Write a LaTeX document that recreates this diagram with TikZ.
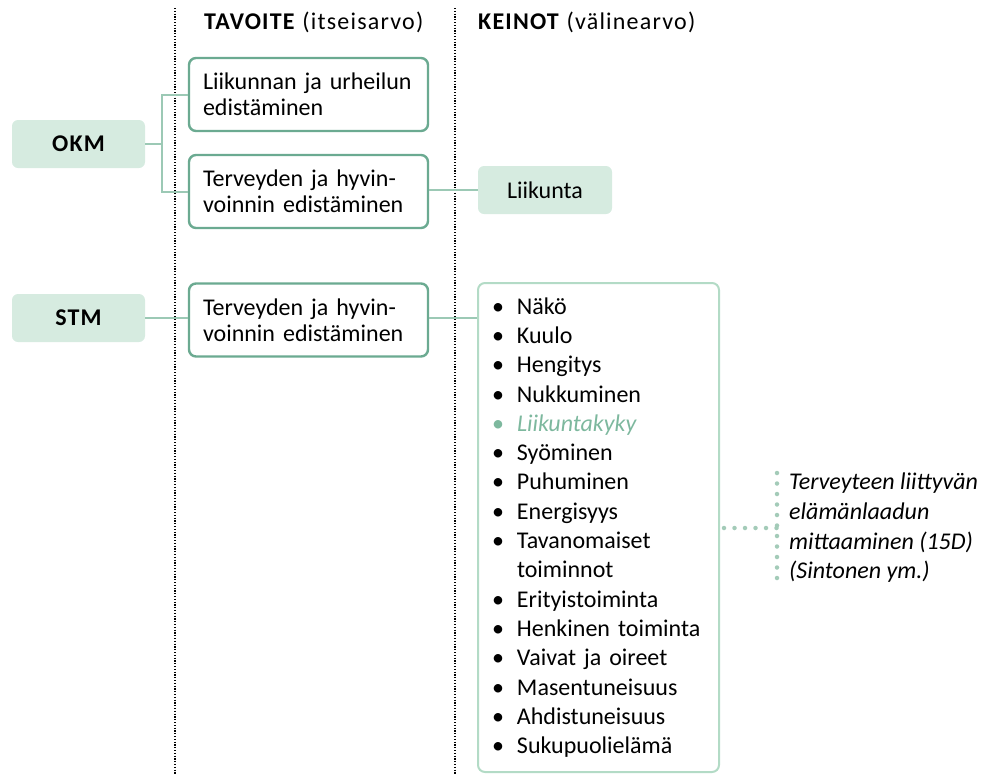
\documentclass[tikz,border=0pt]{standalone}
\usepackage{fontspec}
\setmainfont{Carlito}
\definecolor{boxline}{HTML}{6BAA91}
\definecolor{boxfill}{HTML}{D6EBE0}
\definecolor{listline}{HTML}{B3DBC6}
\definecolor{conn}{HTML}{9CC9B5}
\definecolor{dotc}{HTML}{A3CBB8}
\definecolor{hl}{HTML}{7DB89E}
\newcommand{\bitem}[1]{\makebox[25pt][l]{\textbullet}#1}
\newcommand{\bcont}[1]{\hspace*{25pt}#1}
\begin{document}
\begin{tikzpicture}[x=1pt,y=-1pt,
  txt/.style={font=\fontsize{24}{26}\selectfont},
  goal/.style={txt,draw=boxline,line width=2.4pt,rounded corners=7pt,fill=white,
     minimum width=239pt,minimum height=73pt,text width=211pt,inner xsep=14pt,align=left},
  org/.style={fill=boxfill,rounded corners=6pt,minimum width=133pt,minimum height=48pt,
     font=\fontsize{24}{26}\selectfont\bfseries\addfontfeature{LetterSpace=5}},
  mean/.style={fill=boxfill,rounded corners=6pt,minimum width=134pt,minimum height=48pt,
     font=\fontsize{24}{26}\selectfont},
  conn/.style={draw=conn,line width=2pt},
  colline/.style={draw=black,line width=1.2pt,dash pattern=on 1.2pt off 1.6pt},
  dotline/.style={draw=dotc,line width=4.5pt,line cap=round,dash pattern=on 0pt off 10.5pt},
  head/.style={font=\fontsize{24}{26}\selectfont\addfontfeature{LetterSpace=5},anchor=west,inner sep=0pt}]
\useasboundingbox (0,0) rectangle (986,774);
% column lines
\coordinate (c1t) at (175,8); \coordinate (c1b) at (175,774);
\coordinate (c2t) at (455,8); \coordinate (c2b) at (455,774);
\draw[colline] (c1t) -- (c1b);
\draw[colline] (c2t) -- (c2b);
% headers
\node[head] (h1) at (204,22) {\textbf{TAVOITE} (itseisarvo)};
\node[head] (h2) at (478,22) {\textbf{KEINOT} (välinearvo)};
% nodes
\node[org] (okm) at (78.5,144) {OKM};
\node[org] (stm) at (78.5,318) {STM};
\node[goal] (g1) at (308.5,94.5) {Liikunnan ja urheilun\\edistäminen};
\node[goal] (g2) at (308.5,191.5) {Terveyden ja hyvin-\\voinnin edistäminen};
\node[goal] (g3) at (308.5,320) {Terveyden ja hyvin-\\voinnin edistäminen};
\node[mean] (lk) at (545,190) {Liikunta};
\node[draw=listline,line width=2pt,rounded corners=7pt,minimum width=241pt,minimum height=489pt,
  text width=213pt,inner xsep=14pt,align=left,font=\fontsize{24}{29.3}\selectfont] (list) at (598.5,527.5)
  {\bitem{Näkö}\\ \bitem{Kuulo}\\ \bitem{Hengitys}\\ \bitem{Nukkuminen}\\
   {\color{hl}\bitem{\itshape Liikuntakyky}}\\ \bitem{Syöminen}\\ \bitem{Puhuminen}\\
   \bitem{Energisyys}\\ \bitem{Tavanomaiset}\\ \bcont{toiminnot}\\ \bitem{Erityistoiminta}\\
   \bitem{Henkinen toiminta}\\ \bitem{Vaivat ja oireet}\\ \bitem{Masentuneisuus}\\
   \bitem{Ahdistuneisuus}\\ \bitem{Sukupuolielämä}};
\node[anchor=west,align=left,inner sep=0pt,font=\fontsize{24}{29.7}\selectfont\itshape] (note) at (789,528)
  {Terveyteen liittyvän\\elämänlaadun\\mittaaminen (15D)\\(Sintonen ym.)};
% connectors
\coordinate (okmb) at (162,144);
\draw[conn] (okm.east) -- (okmb);
\draw[conn] (g1.west) -| (okmb) |- (g2.west);
\draw[conn] (stm.east) -- (stm.east -| g3.west);
\draw[conn] (g2.east |- lk.west) -- (lk.west);
\draw[conn] (g3.east |- stm.east) -- (list.west |- stm.east);
\coordinate (dj) at (777,528);
\coordinate (dt) at (777,473);
\coordinate (db) at (777,588);
\draw[dotline] (list.east |- dj) ++(4,0) -- (dj);
\draw[dotline] (dt) -- (db);
\end{tikzpicture}
\end{document}
